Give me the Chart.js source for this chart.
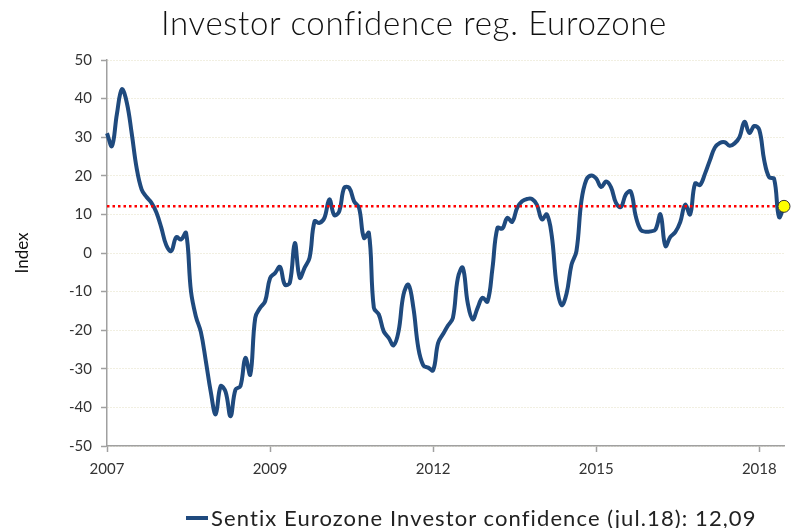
<!DOCTYPE html>
<html lang="en">
<head>
    <meta charset="UTF-8">
    <title>Investor confidence reg. Eurozone</title>
    <script src="https://cdn.jsdelivr.net/npm/chart.js"></script>
    <style>
        html, body {
            margin: 0;
            padding: 0;
            background: #ffffff;
        }

        body {
            position: relative;
            width: 792px;
            height: 528px;
            overflow: hidden;
            font-family: 'Lato', sans-serif;
        }

        canvas {
            position: absolute;
            left: 0;
            top: 0;
        }

        .title {
            position: absolute;
            top: 2px;
            left: 414px;
            transform: translateX(-50%);
            white-space: nowrap;
            font-size: 33px;
            font-weight: 300;
            letter-spacing: 0.7px;
            line-height: 40px;
            color: #111111;
        }

        .legend {
            position: absolute;
            left: 186px;
            top: 507px;
            display: flex;
            align-items: center;
            white-space: nowrap;
            font-size: 22px;
            letter-spacing: 1.1px;
            line-height: 22px;
            color: #222222;
        }

        .legend .swatch {
            display: inline-block;
            width: 22px;
            height: 4px;
            margin-right: 3px;
            background: #1f4a7e;
        }
    </style>
</head>
<body>
    <canvas id="sentixChart" width="792" height="528"></canvas>
    <div class="title">Investor confidence reg. Eurozone</div>
    <div class="legend"><span class="swatch"></span>Sentix Eurozone Investor confidence (jul.18): 12,09</div>

    <script>
        // monthly readings, feb.07 .. jul.18
        const sentix = [
            31.0, 27.7, 36.0, 42.4, 39.0, 31.0, 22.0, 16.5, 14.5, 13.0, 10.5, 6.5,
            2.0, 0.5, 4.1, 3.5, 5.2, -10.0, -16.5, -20.5, -28.0, -36.0, -41.8, -34.5,
            -36.0, -42.3, -35.4, -34.5, -27.2, -31.5, -16.8, -14.2, -12.5, -6.5, -5.2, -3.6,
            -8.2, -7.7, 2.6, -6.4, -3.8, -1.2, 8.2, 7.8, 9.1, 13.9, 9.8, 10.8,
            16.9, 16.9, 13.4, 11.7, 3.9, 5.2, -14.2, -15.9, -20.3, -22.0, -23.9, -20.3,
            -10.8, -8.2, -14.2, -24.6, -29.1, -29.7, -30.4, -23.3, -21.0, -18.8, -16.8, -6.5,
            -3.8, -13.0, -17.2, -14.2, -11.6, -12.6, -4.0, 6.5, 6.3, 9.1, 8.1, 11.7,
            13.4, 14.0, 14.0, 12.5, 8.7, 10.0, 4.5, -8.5, -13.5, -10.5, -3.0, 0.5,
            13.5, 19.0, 20.1, 19.3, 17.1, 18.5, 17.0, 13.0, 11.9, 15.2, 15.9, 9.5,
            6.0, 5.5, 5.6, 6.1, 10.0, 1.8, 4.2, 5.4, 8.0, 12.5, 10.0, 18.0,
            17.6, 20.5, 24.0, 27.3, 28.5, 28.7, 27.8, 28.4, 30.0, 34.0, 31.1, 32.9,
            31.9, 24.0, 19.6, 19.2, 9.3, 12.09
        ];
        const refLevel = 12.09;

        const monthNames = ['jan', 'feb', 'mar', 'apr', 'may', 'jun', 'jul', 'aug', 'sep', 'oct', 'nov', 'dec'];
        const startYear = 2007;
        const startMonth = 1; // feb

        const tickIndex = [0, 33, 66, 99, 132];
        const tickLabels = ['2007', '2009', '2012', '2015', '2018'];

        const months = sentix.map((v, i) => {
            const m = startMonth + i;
            const y = startYear + Math.floor(m / 12);
            return monthNames[m % 12] + '.' + String(y).slice(2);
        });
        const lastLabel = months[months.length - 1];

        const axisGrey = '#a0a0a0';

        new Chart(document.getElementById('sentixChart'), {
            type: 'line',
            data: {
                labels: months,
                datasets: [
                    {
                        label: 'Latest',
                        data: [{ x: lastLabel, y: sentix[sentix.length - 1] }],
                        showLine: false,
                        pointRadius: 6,
                        pointBackgroundColor: '#ffff00',
                        pointBorderColor: '#333333',
                        pointBorderWidth: 1,
                        clip: false,
                        order: 0
                    },
                    {
                        label: 'Level',
                        data: [{ x: months[0], y: refLevel }, { x: lastLabel, y: refLevel }],
                        borderColor: '#ff0000',
                        borderWidth: 2.5,
                        borderDash: [2.5, 3],
                        pointRadius: 0,
                        tension: 0,
                        order: 1
                    },
                    {
                        label: 'Sentix Eurozone Investor confidence (jul.18): 12,09',
                        data: sentix,
                        borderColor: '#1f4a7e',
                        borderWidth: 4,
                        pointRadius: 0,
                        tension: 0.4,
                        order: 2
                    }
                ]
            },
            options: {
                responsive: false,
                animation: false,
                layout: { padding: { left: 12, right: 8, top: 60, bottom: 0 } },
                plugins: {
                    legend: { display: false },
                    tooltip: { enabled: false }
                },
                scales: {
                    x: {
                        type: 'category',
                        grid: {
                            drawOnChartArea: false,
                            drawTicks: true,
                            tickLength: 6,
                            tickWidth: 1.5,
                            tickColor: ctx => tickIndex.includes(ctx.index) ? axisGrey : 'rgba(0,0,0,0)'
                        },
                        border: { color: axisGrey, width: 1.5 },
                        ticks: {
                            autoSkip: false,
                            maxRotation: 0,
                            minRotation: 0,
                            padding: 8,
                            color: '#333333',
                            font: { family: 'Lato', size: 15 },
                            callback: (val, i) => {
                                const k = tickIndex.indexOf(i);
                                return k >= 0 ? tickLabels[k] : '';
                            }
                        },
                        afterFit: scale => { scale.height = 82; }
                    },
                    y: {
                        min: -50,
                        max: 50,
                        grid: {
                            color: '#e2dec2',
                            lineWidth: 1,
                            tickLength: 6,
                            tickWidth: 1.5,
                            tickColor: axisGrey,
                            tickBorderDash: [],
                            borderDash: [1, 2]
                        },
                        border: { color: axisGrey, width: 1.5, dash: [1, 2] },
                        ticks: {
                            stepSize: 10,
                            padding: 9,
                            color: '#333333',
                            font: { family: 'Lato', size: 15 }
                        },
                        title: {
                            display: true,
                            text: 'Index',
                            color: '#111111',
                            font: { family: 'Lato', size: 17 },
                            padding: { top: 0, bottom: 0 }
                        },
                        afterFit: scale => { scale.width = 95; }
                    }
                }
            }
        });
    </script>
</body>
</html>
